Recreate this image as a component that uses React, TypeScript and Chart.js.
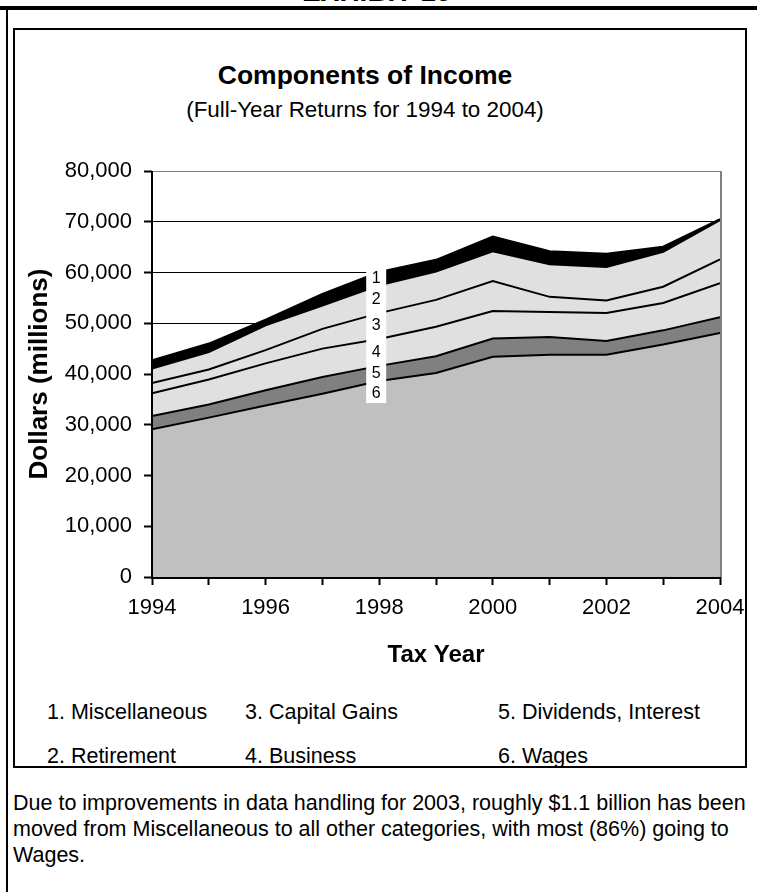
import React, { useEffect, useRef } from "react";
import { Chart, registerables } from "chart.js";

Chart.register(...registerables);

// ---------- data ----------
const years = [1994, 1995, 1996, 1997, 1998, 1999, 2000, 2001, 2002, 2003, 2004];
const wages = [29100, 31400, 33800, 36100, 38600, 40200, 43400, 43800, 43800, 45800, 48100];
const dividendsInterest = [2600, 2600, 3000, 3300, 3000, 3300, 3600, 3500, 2700, 2800, 3100];
const business = [4500, 4900, 5300, 5600, 5300, 5800, 5400, 4900, 5500, 5400, 6700];
const capitalGains = [2000, 2000, 2600, 3900, 5100, 5300, 5900, 3000, 2500, 3200, 4700];
const retirement = [2900, 3400, 4900, 4600, 5500, 5600, 5900, 6400, 6600, 6900, 7700];
const miscellaneous = [1600, 1700, 1100, 2300, 2600, 2300, 2900, 2600, 2600, 1000, 200];

const seriesNames = ["Wages", "Dividends, Interest", "Business", "Capital Gains", "Retirement", "Miscellaneous"];
const seriesValues = [wages, dividendsInterest, business, capitalGains, retirement, miscellaneous];
const seriesColors = ["#c0c0c0", "#808080", "#e0e0e0", "#e0e0e0", "#e0e0e0", "#000000"];
const bandNumbers = ["6", "5", "4", "3", "2", "1"];
const labelYear = 1998;

const legendRow1 = ["1. Miscellaneous", "3. Capital Gains", "5. Dividends, Interest"];
const legendRow2 = ["2. Retirement", "4. Business", "6. Wages"];

const yMin = 0;
const yMax = 80000;
const yStep = 10000;
const xLabelStep = 2;

const titleText = "Components of Income";
const subtitleText = "(Full-Year Returns for 1994 to 2004)";
const yTitle = "Dollars (millions)";
const xTitle = "Tax Year";
const exhibitText = "EXHIBIT 10";
const footnoteLines = [
  "Due to improvements in data handling for 2003, roughly $1.1 billion has been",
  "moved from Miscellaneous to all other categories, with most (86%) going to",
  "Wages.",
];

const FONT = "'Liberation Sans', Arial, Helvetica, sans-serif";

function fmt(n: number): string {
  return String(Math.round(n)).replace(/\B(?=(\d{3})+(?!\d))/g, ",");
}

const overlayPlugin = {
  id: "overlay",
  afterDatasetsDraw(chart: any) {
    const { ctx, chartArea, scales } = chart;
    const { left, right, top, bottom } = chartArea;
    const xs = scales.x;
    const ys = scales.y;
    ctx.save();

    // band number labels
    const idx = years.indexOf(labelYear);
    const xp = xs.getPixelForValue(labelYear) - 3;
    let cum = 0;
    const pos: number[] = [];
    seriesValues.forEach((s, i) => {
      const lo = cum;
      cum += s[idx];
      const yTop = ys.getPixelForValue(cum);
      const yLo = ys.getPixelForValue(lo);
      pos.push(i === 0 ? yTop + 12 : (yTop + yLo) / 2);
    });
    const minY = Math.min(...pos);
    const maxY = Math.max(...pos);
    ctx.fillStyle = "#ffffff";
    ctx.fillRect(xp - 10, minY - 10, 20, maxY - minY + 20);
    ctx.fillStyle = "#000";
    ctx.font = `16px ${FONT}`;
    ctx.textAlign = "center";
    ctx.textBaseline = "middle";
    pos.forEach((p, i) => ctx.fillText(bandNumbers[i], xp, p));

    // plot border: gray right, black axes
    ctx.strokeStyle = "#808080";
    ctx.lineWidth = 2;
    ctx.beginPath();
    ctx.moveTo(right + 1, top);
    ctx.lineTo(right + 1, bottom);
    ctx.stroke();

    ctx.strokeStyle = "#000";
    ctx.lineWidth = 2;
    ctx.beginPath();
    ctx.moveTo(left, top);
    ctx.lineTo(left, bottom + 1);
    ctx.lineTo(right + 1, bottom + 1);
    ctx.stroke();
    ctx.restore();
  },
};

function ChartCanvas() {
  const ref = useRef<HTMLCanvasElement | null>(null);
  useEffect(() => {
    if (!ref.current) return;
    const datasets = seriesNames.map((name, i) => ({
      label: name,
      data: years.map((yr, j) => ({ x: yr, y: seriesValues[i][j] })),
      backgroundColor: seriesColors[i],
      borderColor: "#000",
      borderWidth: 2,
      pointRadius: 0,
      tension: 0,
      fill: i === 0 ? "origin" : "-1",
    }));
    const chart = new Chart(ref.current, {
      type: "line",
      data: { datasets },
      plugins: [overlayPlugin],
      options: {
        animation: false,
        responsive: false,
        layout: { padding: { left: 0, top: 171, right: 37, bottom: 222 } },
        plugins: { legend: { display: false }, tooltip: { enabled: false }, title: { display: false } },
        scales: {
          x: {
            type: "linear",
            min: years[0],
            max: years[years.length - 1],
            afterFit: (s: any) => {
              s.height = 93;
            },
            ticks: {
              stepSize: 1,
              autoSkip: false,
              maxRotation: 0,
              padding: 10,
              color: "#000",
              font: { family: FONT, size: 22 },
              callback: (v: any) => ((Number(v) - years[0]) % xLabelStep === 0 ? String(v) : ""),
            },
            grid: {
              drawOnChartArea: false,
              drawTicks: true,
              tickLength: 8,
              tickColor: "#000",
              tickWidth: 2,
            },
            border: { display: false },
            title: {
              display: true,
              text: xTitle,
              color: "#000",
              font: { family: FONT, size: 24, weight: "bold" },
              padding: { top: 0, bottom: 0 },
            },
          },
          y: {
            stacked: true,
            min: yMin,
            max: yMax,
            afterFit: (s: any) => {
              s.width = 152;
            },
            ticks: {
              stepSize: yStep,
              padding: 12,
              color: "#000",
              font: { family: FONT, size: 22 },
              callback: (v: any) => fmt(Number(v)),
            },
            grid: {
              drawTicks: true,
              tickLength: 8,
              tickWidth: 2,
              tickColor: "#000",
              lineWidth: 1,
              color: (c: any) =>
                c.tick && c.tick.value === yMax ? "#808080" : c.tick && c.tick.value === yMin ? "rgba(0,0,0,0)" : "#000",
            },
            border: { display: false },
            title: {
              display: true,
              text: yTitle,
              color: "#000",
              font: { family: FONT, size: 26, weight: "bold" },
              padding: { top: 24, bottom: 0 },
            },
          },
        },
      },
    } as any);
    return () => chart.destroy();
  }, []);
  return (
    <canvas
      ref={ref}
      width={757}
      height={892}
      style={{ position: "absolute", left: 0, top: 0, width: 757, height: 892, zIndex: 2 }}
    />
  );
}

function Text(props: { x: number; cy: number; size: number; bold?: boolean; italic?: boolean; center?: boolean; children: any }) {
  const lh = Math.round(props.size * 1.25);
  return (
    <div
      style={{
        position: "absolute",
        left: props.center ? props.x - 400 : props.x,
        width: props.center ? 800 : undefined,
        textAlign: props.center ? "center" : "left",
        top: props.cy - lh / 2,
        lineHeight: `${lh}px`,
        fontSize: props.size,
        fontWeight: props.bold ? "bold" : "normal",
        fontStyle: props.italic ? "italic" : "normal",
        whiteSpace: "nowrap",
        color: "#000",
      }}
    >
      {props.children}
    </div>
  );
}

export default function App() {
  const boxLeft = 13;
  const boxTop = 28;
  const boxRight = 747;
  const boxBottom = 768;
  const bw = 2;
  const ox = boxLeft + bw;
  const oy = boxTop + bw;
  const legendCols = [47, 245, 498];
  return (
    <div
      style={{
        position: "absolute",
        left: 0,
        top: 0,
        width: 757,
        height: 892,
        overflow: "hidden",
        background: "#fff",
        fontFamily: FONT,
      }}
    >
      <Text x={378} cy={-9} size={28} bold italic center>
        {exhibitText}
      </Text>
      <div style={{ position: "absolute", left: 0, top: 6, width: 757, height: 4, background: "#000" }} />
      <div style={{ position: "absolute", left: 6, top: 8, width: 2, height: 884, background: "#000" }} />
      <div
        style={{
          position: "absolute",
          left: boxLeft,
          top: boxTop,
          width: boxRight - boxLeft,
          height: boxBottom - boxTop,
          border: `${bw}px solid #000`,
          boxSizing: "border-box",
          overflow: "hidden",
        }}
      >
        <Text x={365 - ox} cy={75 - oy} size={26.5} bold center>
          {titleText}
        </Text>
        <Text x={365 - ox} cy={110 - oy} size={22.4} center>
          {subtitleText}
        </Text>
        {legendRow1.map((t, i) => (
          <Text key={"a" + i} x={legendCols[i] - ox} cy={712 - oy} size={21.5}>
            {t}
          </Text>
        ))}
        {legendRow2.map((t, i) => (
          <Text key={"b" + i} x={legendCols[i] - ox} cy={756 - oy} size={21.5}>
            {t}
          </Text>
        ))}
      </div>
      {footnoteLines.map((t, i) => (
        <Text key={"f" + i} x={13} cy={803 + i * 26} size={21.5}>
          {t}
        </Text>
      ))}
      <ChartCanvas />
    </div>
  );
}
